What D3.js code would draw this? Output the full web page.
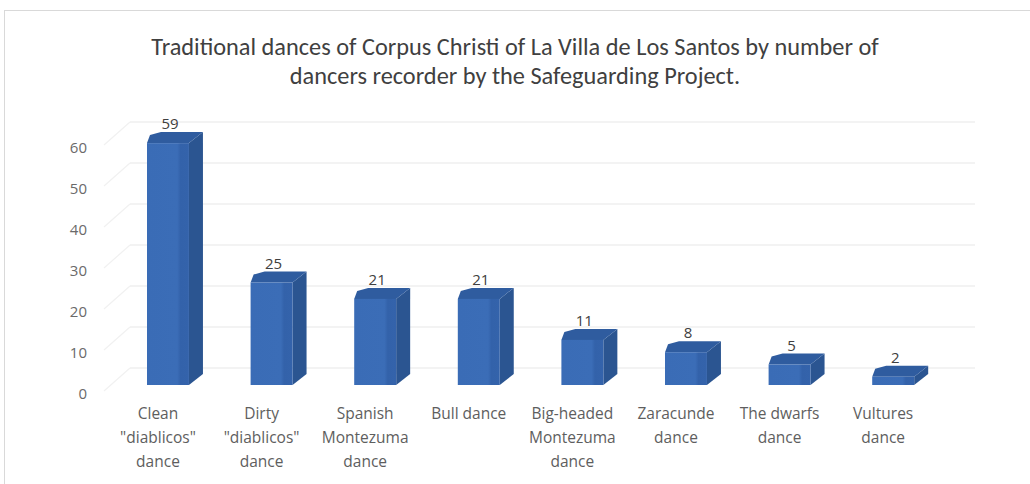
<!DOCTYPE html>
<html>
<head>
<meta charset="utf-8">
<script src="https://cdn.jsdelivr.net/npm/d3@7"></script>
<style>
  html, body { margin: 0; padding: 0; background: #ffffff; }
  svg { display: block; }
</style>
</head>
<body>
<svg id="chart" width="1030" height="484"></svg>
<script>
// ---- data ----
const titleLines = [
  "Traditional dances of Corpus Christi of La Villa de Los Santos by number of",
  "dancers recorder by the Safeguarding Project."
];
const categories = [
  "Clean \"diablicos\" dance",
  "Dirty \"diablicos\" dance",
  "Spanish Montezuma dance",
  "Bull dance",
  "Big-headed Montezuma dance",
  "Zaracunde dance",
  "The dwarfs dance",
  "Vultures dance"
];
const categoryLines = [
  ["Clean", "\"diablicos\"", "dance"],
  ["Dirty", "\"diablicos\"", "dance"],
  ["Spanish", "Montezuma", "dance"],
  ["Bull dance"],
  ["Big-headed", "Montezuma", "dance"],
  ["Zaracunde", "dance"],
  ["The dwarfs", "dance"],
  ["Vultures", "dance"]
];
const dancers = [59, 25, 21, 21, 11, 8, 5, 2];
const yTicks = [0, 10, 20, 30, 40, 50, 60];

// ---- layout ----
const svg = d3.select("#chart");
const W = 1030, H = 484;

// chart border
svg.append("rect")
  .attr("x", 4.5).attr("y", 10.5).attr("width", W + 2).attr("height", H)
  .attr("fill", "#fff").attr("stroke", "#d9d9d9").attr("stroke-width", 1);

const y = d3.scaleLinear().domain([0, 60]).range([385, 139]);
const step = 103.6;
const x = d3.scaleBand()
  .domain(categories)
  .range([147 - 0.5 * step, 147 - 0.5 * step + step * (8 - 0.595 + 1)])
  .paddingInner(0.595)
  .paddingOuter(0.5);
const bw = x.bandwidth();
const depthX = 14, depthY = -11;      // bar depth
const wallDY = -17;                   // back wall offset
const wallLeft = 130, wallRight = 975;

// ---- walls / gridlines ----
const grid = svg.append("g");
yTicks.forEach(t => {
  const yb = y(t) + wallDY;
  grid.append("line")
    .attr("x1", wallLeft).attr("x2", wallRight)
    .attr("y1", yb).attr("y2", yb)
    .attr("stroke", "#e8e8e8").attr("stroke-width", 1.2);
  grid.append("line")
    .attr("x1", 104).attr("y1", y(t) + 6)
    .attr("x2", wallLeft).attr("y2", yb)
    .attr("stroke", "#f1f1f1").attr("stroke-width", 1.2);
});

// ---- y axis labels ----
const yAxis = d3.axisLeft(y).tickValues(yTicks).tickSize(0).tickPadding(0);
const yg = svg.append("g").attr("transform", "translate(87,9)").call(yAxis);
yg.select(".domain").remove();
yg.selectAll("text")
  .attr("font-family", "'Open Sans', 'Noto Sans', sans-serif")
  .attr("font-size", 15)
  .attr("fill", "#6a6a6a");

// ---- bars ----
const defs = svg.append("defs");
const grad = defs.append("linearGradient").attr("id", "front")
  .attr("x1", "0%").attr("x2", "100%").attr("y1", "0%").attr("y2", "0%");
grad.append("stop").attr("offset", "0%").attr("stop-color", "#3a6cb6");
grad.append("stop").attr("offset", "72%").attr("stop-color", "#3b6db7");
grad.append("stop").attr("offset", "80%").attr("stop-color", "#3362aa");
grad.append("stop").attr("offset", "100%").attr("stop-color", "#3463ab");

const bars = svg.append("g").selectAll("g.bar")
  .data(categories.map((c, i) => ({ c, v: dancers[i] })))
  .join("g").attr("class", "bar");

bars.append("polygon") // side
  .attr("points", d => {
    const x0 = x(d.c) + bw, yt = y(d.v), yb = y(0);
    return [[x0, yt], [x0 + depthX, yt + depthY], [x0 + depthX, yb + depthY], [x0, yb]].join(" ");
  })
  .attr("fill", "#2b5591");
bars.append("polygon") // top
  .attr("points", d => {
    const x0 = x(d.c), yt = y(d.v);
    return [[x0, yt], [x0 + 3, yt + depthY + 3], [x0 + depthX, yt + depthY],
            [x0 + bw + depthX, yt + depthY], [x0 + bw, yt]].join(" ");
  })
  .attr("fill", "#2f5c9f");
bars.append("rect") // front
  .attr("x", d => x(d.c))
  .attr("y", d => y(d.v))
  .attr("width", bw)
  .attr("height", d => y(0) - y(d.v))
  .attr("fill", "url(#front)");

// value labels
bars.append("text")
  .attr("x", d => x(d.c) + bw / 2 + 2)
  .attr("y", d => y(d.v) + depthY - 3)
  .attr("text-anchor", "middle")
  .attr("font-family", "'Open Sans', 'Noto Sans', sans-serif")
  .attr("font-size", 15)
  .attr("fill", "#404040")
  .text(d => d.v);

// ---- category labels ----
const cat = svg.append("g").selectAll("text")
  .data(categories)
  .join("text")
  .attr("x", d => x(d) + bw / 2 - 10)
  .attr("y", 419)
  .attr("text-anchor", "middle")
  .attr("font-family", "'Open Sans', 'Noto Sans', sans-serif")
  .attr("font-size", 15.5)
  .attr("fill", "#5e5e5e");
cat.each(function(d, i) {
  d3.select(this).selectAll("tspan")
    .data(categoryLines[i])
    .join("tspan")
    .attr("x", x(d) + bw / 2 - 10)
    .attr("dy", (l, j) => j === 0 ? 0 : 24)
    .text(l => l);
});

// ---- title ----
const title = svg.append("g");
const targetW = 728;
const t1 = title.append("text")
  .attr("x", 515).attr("y", 55)
  .attr("text-anchor", "middle")
  .attr("font-family", "Carlito, Lato, sans-serif")
  .attr("font-size", 20)
  .attr("fill", "#404040")
  .text(titleLines[0]);
const w1 = t1.node().getComputedTextLength();
const fs = 20 * targetW / w1;
t1.attr("font-size", fs);
title.append("text")
  .attr("x", 515).attr("y", 84)
  .attr("text-anchor", "middle")
  .attr("font-family", "Carlito, Lato, sans-serif")
  .attr("font-size", fs)
  .attr("fill", "#404040")
  .text(titleLines[1]);
</script>
</body>
</html>
